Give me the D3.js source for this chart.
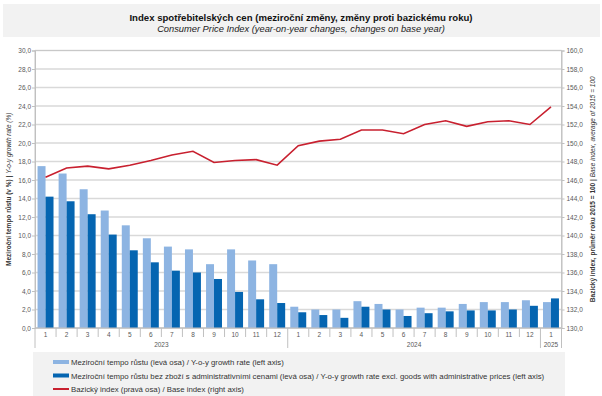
<!DOCTYPE html>
<html>
<head>
<meta charset="utf-8">
<script src="https://cdn.jsdelivr.net/npm/d3@7"></script>
<style>
  body { margin: 0; background: #fff; }
  svg { display: block; font-family: "Liberation Sans", Arial, sans-serif; }
</style>
</head>
<body>
<svg id="chart" width="602" height="396"></svg>
<script>
// months on the x axis, grouped by year
const months = ['1','2','3','4','5','6','7','8','9','10','11','12',
                '1','2','3','4','5','6','7','8','9','10','11','12','1'];
const years = ['2023', '2024', '2025'];
const yearCounts = [12, 12, 1];

// y-o-y growth rate (%)
const growth = [17.5, 16.7, 15.0, 12.7, 11.1, 9.7, 8.8, 8.5, 6.9, 8.5, 7.3, 6.9,
                2.3, 2.0, 2.0, 2.9, 2.6, 2.0, 2.2, 2.2, 2.6, 2.8, 2.8, 3.0, 2.8];
// y-o-y growth rate excl. administrative prices (%)
const growthExAdmin = [14.2, 13.7, 12.3, 10.1, 8.4, 7.1, 6.2, 6.0, 5.3, 3.9, 3.1, 2.7,
                       1.7, 1.4, 1.1, 2.3, 2.0, 1.3, 1.6, 1.8, 1.9, 1.9, 2.0, 2.4, 3.2];
// base index, 2015 = 100
const baseIndex = [146.3, 147.3, 147.5, 147.2, 147.6, 148.1, 148.7, 149.1, 147.9, 148.1, 148.2, 147.6,
                   149.7, 150.2, 150.4, 151.4, 151.4, 151.0, 152.0, 152.4, 151.8, 152.3, 152.4, 152.0, 153.9];

const legendLabels = [
  'Meziroční tempo růstu (levá osa) / Y-o-y growth rate (left axis)',
  'Meziroční tempo růstu bez zboží s administrativními cenami (levá osa) / Y-o-y growth rate excl. goods with administrative prices (left axis)',
  'Bazický index (pravá osa) / Base index (right axis)'
];

const colors = { light: '#8db4e2', dark: '#0565b1', line: '#c8202f', grid: '#d9d9d9', text: '#595959' };

const svg = d3.select('#chart');
const plot = { left: 35, right: 561.5, top: 50.5, bottom: 328 };

const czFormat = d3.formatLocale({ decimal: ',', thousands: ' ', grouping: [3], currency: ['', ''] }).format('.1f');

const x = d3.scaleBand().domain(d3.range(months.length)).range([plot.left, plot.right]);
const xSub = d3.scaleBand().domain(['a', 'b']).range([0, x.bandwidth()]).paddingOuter(0.32);
const yLeft = d3.scaleLinear().domain([0, 30]).range([plot.bottom, plot.top]);
const yRight = d3.scaleLinear().domain([130, 160]).range([plot.bottom, plot.top]);

// title block
svg.append('rect').attr('x', 3).attr('y', 4).attr('width', 597).attr('height', 33).attr('fill', '#f2f2f2');
svg.append('text').attr('x', 301).attr('y', 21).attr('text-anchor', 'middle')
  .attr('font-size', 9.6).attr('font-weight', 'bold').attr('fill', '#111')
  .text('Index spotřebitelských cen (meziroční změny, změny proti bazickému roku)');
svg.append('text').attr('x', 301).attr('y', 32).attr('text-anchor', 'middle')
  .attr('font-size', 9.3).attr('font-style', 'italic').attr('fill', '#222')
  .text('Consumer Price Index (year-on-year changes, changes on base year)');

// gridlines
svg.append('g')
  .selectAll('line')
  .data(yLeft.ticks(15))
  .join('line')
  .attr('x1', plot.left).attr('x2', plot.right)
  .attr('y1', d => yLeft(d)).attr('y2', d => yLeft(d))
  .attr('stroke', colors.grid).attr('stroke-width', 1.5);

// plot frame
svg.append('rect')
  .attr('x', plot.left).attr('y', plot.top)
  .attr('width', plot.right - plot.left).attr('height', plot.bottom - plot.top)
  .attr('fill', 'none').attr('stroke', '#c8c8c8').attr('stroke-width', 1);

// axes
function styleAxis(g) {
  g.select('.domain').attr('stroke', '#c0c0c0');
  g.selectAll('.tick line').attr('stroke', '#c0c0c0');
  g.selectAll('.tick text').attr('fill', colors.text).attr('font-size', 6.5)
    .attr('font-family', '"Liberation Sans", Arial, sans-serif');
}

svg.append('g').attr('transform', `translate(${plot.left},0)`)
  .call(d3.axisLeft(yLeft).ticks(15).tickFormat(czFormat).tickSize(3).tickPadding(1))
  .call(styleAxis);

svg.append('g').attr('transform', `translate(${plot.right},0)`)
  .call(d3.axisRight(yRight).ticks(15).tickFormat(czFormat).tickSize(3).tickPadding(2))
  .call(styleAxis);

// bars
const groups = svg.append('g')
  .selectAll('g')
  .data(months.map((m, i) => i))
  .join('g')
  .attr('transform', i => `translate(${x(i)},0)`);

groups.append('rect')
  .attr('x', xSub('a')).attr('width', xSub.bandwidth())
  .attr('y', i => yLeft(growth[i])).attr('height', i => yLeft(0) - yLeft(growth[i]))
  .attr('fill', colors.light);

groups.append('rect')
  .attr('x', xSub('b')).attr('width', xSub.bandwidth())
  .attr('y', i => yLeft(growthExAdmin[i])).attr('height', i => yLeft(0) - yLeft(growthExAdmin[i]))
  .attr('fill', colors.dark);

// base index line
const line = d3.line()
  .x((d, i) => x(i) + x.bandwidth() / 2)
  .y(d => yRight(d));

svg.append('path').datum(baseIndex)
  .attr('d', line)
  .attr('fill', 'none').attr('stroke', colors.line).attr('stroke-width', 1.6);

// x axis: month labels and separators
const xAxis = svg.append('g');
xAxis.append('line')
  .attr('x1', plot.left).attr('x2', plot.right)
  .attr('y1', plot.bottom).attr('y2', plot.bottom)
  .attr('stroke', '#c0c0c0');

xAxis.selectAll('text.month')
  .data(months)
  .join('text')
  .attr('class', 'month')
  .attr('x', (d, i) => x(i) + x.bandwidth() / 2)
  .attr('y', 337)
  .attr('text-anchor', 'middle')
  .attr('font-size', 6.5).attr('fill', colors.text)
  .text(d => d);

const yearStarts = yearCounts.map((c, k) => d3.sum(yearCounts.slice(0, k)));
const boundaries = d3.range(months.length + 1);

xAxis.selectAll('line.sep')
  .data(boundaries)
  .join('line')
  .attr('class', 'sep')
  .attr('x1', i => i < months.length ? x(i) : plot.right)
  .attr('x2', i => i < months.length ? x(i) : plot.right)
  .attr('y1', plot.bottom)
  .attr('y2', i => (yearStarts.includes(i) || i === months.length) ? 348 : 337)
  .attr('stroke', '#c0c0c0');

xAxis.selectAll('text.year')
  .data(years)
  .join('text')
  .attr('class', 'year')
  .attr('x', (d, k) => {
    const a = x(yearStarts[k]);
    const b = x(yearStarts[k] + yearCounts[k] - 1) + x.bandwidth();
    return (a + b) / 2;
  })
  .attr('y', 347)
  .attr('text-anchor', 'middle')
  .attr('font-size', 6.5).attr('fill', colors.text)
  .text(d => d);

// axis titles
const leftTitle = svg.append('text')
  .attr('transform', `translate(11,${(plot.top + plot.bottom) / 2}) rotate(-90)`)
  .attr('text-anchor', 'middle').attr('font-size', 6.5).attr('fill', '#333');
leftTitle.append('tspan').attr('font-weight', 'bold').text('Meziroční tempo růstu (v %) | ');
leftTitle.append('tspan').attr('font-style', 'italic').text('Y-o-y growth rate (%)');

const rightTitle = svg.append('text')
  .attr('transform', `translate(595,${(plot.top + plot.bottom) / 2}) rotate(-90)`)
  .attr('text-anchor', 'middle').attr('font-size', 6.5).attr('fill', '#333');
rightTitle.append('tspan').attr('font-weight', 'bold').text('Bazický index, průměr roku 2015 = 100 | ');
rightTitle.append('tspan').attr('font-style', 'italic').text('Base index, average of 2015 = 100');

// legend
svg.append('rect').attr('x', 33).attr('y', 352).attr('width', 532).attr('height', 44).attr('fill', '#f2f2f2');

const legendItems = [
  { label: legendLabels[0], color: colors.light, width: 4 },
  { label: legendLabels[1], color: colors.dark, width: 4 },
  { label: legendLabels[2], color: colors.line, width: 2 }
];

const legend = svg.append('g')
  .selectAll('g')
  .data(legendItems)
  .join('g')
  .attr('transform', (d, i) => `translate(53,${362 + i * 13.5})`);

legend.append('line')
  .attr('x1', 0).attr('x2', 16).attr('y1', 0).attr('y2', 0)
  .attr('stroke', d => d.color).attr('stroke-width', d => d.width);

legend.append('text')
  .attr('x', 18).attr('y', 3)
  .attr('font-size', 7.8).attr('fill', '#333')
  .text(d => d.label);
</script>
</body>
</html>
